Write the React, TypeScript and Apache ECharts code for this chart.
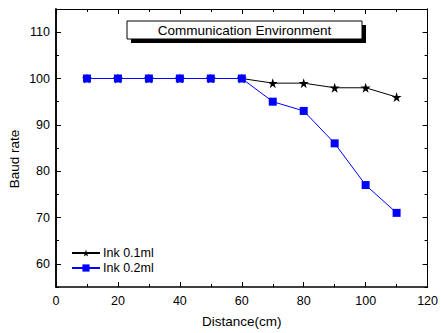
import React, { useEffect, useRef } from "react";
import * as echarts from "echarts";

const distances = [10, 20, 30, 40, 50, 60, 70, 80, 90, 100, 110];
const ink01 = [100, 100, 100, 100, 100, 100, 99, 99, 98, 98, 96];
const ink02 = [100, 100, 100, 100, 100, 100, 95, 93, 86, 77, 71];
const yMajorTicks = [60, 70, 80, 90, 100, 110];
const yMinorTicks = [55, 65, 75, 85, 95, 105, 115];
const seriesNames = ["Ink 0.1ml", "Ink 0.2ml"];
const titleText = "Communication Environment";

const STAR = "path://M50,0 L61,35 L98,35 L68,57 L79,91 L50,70 L21,91 L32,57 L2,35 L39,35 Z";
const FONT = "Liberation Sans, Arial, sans-serif";

export default function App() {
  const ref = useRef<HTMLDivElement>(null);
  useEffect(() => {
    if (!ref.current) return;
    const chart = echarts.init(ref.current, null, { renderer: "svg" });
    const xBase = {
      type: "value" as const,
      min: 0,
      max: 120,
      interval: 20,
      splitLine: { show: false },
      axisLine: { show: true, lineStyle: { color: "#000", width: 1.5 } },
      axisTick: { show: true, inside: true, length: 5, lineStyle: { color: "#000" } },
      minorTick: { show: true, splitNumber: 2, length: 3, lineStyle: { color: "#000" } },
    };
    const yBase = (pos: "left" | "right", ticks: number[], len: number, labels: boolean) => ({
      type: "value" as const,
      position: pos,
      min: 55,
      max: 115,
      interval: 5,
      splitLine: { show: false },
      axisLine: { show: true, onZero: false, lineStyle: { color: "#000", width: pos === "left" ? 1.5 : 1 } },
      axisTick: { show: true, inside: true, length: len, customValues: ticks, lineStyle: { color: "#000" } },
      axisLabel: labels
        ? { show: true, customValues: yMajorTicks, margin: 6, color: "#000", fontSize: 12.5, fontFamily: FONT }
        : { show: false },
    });
    chart.setOption({
      animation: false,
      backgroundColor: "#fff",
      grid: { left: 56, right: 8, top: 9, bottom: 43, containLabel: false },
      xAxis: [
        {
          ...xBase,
          position: "bottom",
          name: "Distance(cm)",
          nameLocation: "middle",
          nameGap: 27,
          nameTextStyle: { color: "#000", fontSize: 13.5, fontFamily: FONT },
          axisLabel: { show: true, margin: 7, color: "#000", fontSize: 12.5, fontFamily: FONT },
        },
        {
          ...xBase,
          position: "top",
          axisLine: { show: true, lineStyle: { color: "#000", width: 1 } },
          axisLabel: { show: false },
        },
      ],
      yAxis: [
        yBase("left", yMajorTicks, 5, true),
        yBase("right", yMajorTicks, 5, false),
        yBase("left", yMinorTicks, 3, false),
        yBase("right", yMinorTicks, 3, false),
      ],
      legend: {
        orient: "vertical",
        left: 71,
        top: 246,
        padding: 0,
        itemWidth: 28,
        itemHeight: 9,
        itemGap: 1,
        textStyle: { color: "#000", fontSize: 12.5, fontFamily: FONT, lineHeight: 14, padding: [0, 0, 0, -2] },
        data: seriesNames,
      },
      graphic: [
        { type: "rect", shape: { x: 131, y: 25, width: 235, height: 18 }, style: { fill: "#000" }, silent: true },
        {
          type: "rect",
          shape: { x: 127, y: 21, width: 235, height: 18 },
          style: { fill: "#fff", stroke: "#000", lineWidth: 1 },
          silent: true,
        },
        {
          type: "text",
          x: 244.5,
          y: 30.5,
          style: { text: titleText, fill: "#000", fontSize: 13.5, fontFamily: FONT, textAlign: "center", textVerticalAlign: "middle" },
          silent: true,
        },
        {
          type: "text",
          x: 14,
          y: 159,
          rotation: Math.PI / 2,
          style: { text: "Baud rate", fill: "#000", fontSize: 13.5, fontFamily: FONT, textAlign: "center", textVerticalAlign: "middle" },
          silent: true,
        },
      ],
      series: [
        {
          name: seriesNames[0],
          type: "line",
          data: distances.map((d, i) => [d, ink01[i]]),
          symbol: STAR,
          symbolSize: 10,
          itemStyle: { color: "#000" },
          lineStyle: { color: "#000", width: 1 },
        },
        {
          name: seriesNames[1],
          type: "line",
          data: distances.map((d, i) => [d, ink02[i]]),
          symbol: "rect",
          symbolSize: 8,
          itemStyle: { color: "#0000ff" },
          lineStyle: { color: "#0000ff", width: 1 },
        },
      ],
    });
    return () => chart.dispose();
  }, []);
  return <div ref={ref} style={{ width: 441, height: 333, position: "absolute", left: 0, top: 0 }} />;
}
